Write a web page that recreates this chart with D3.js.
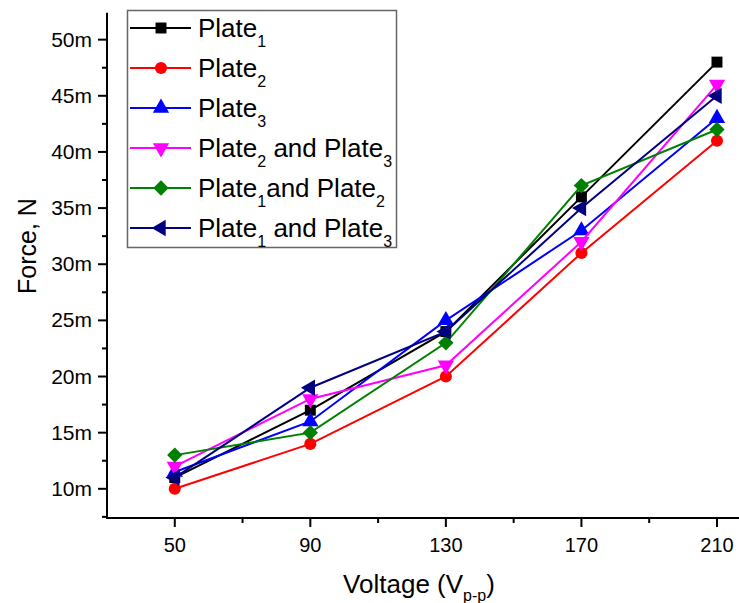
<!DOCTYPE html>
<html>
<head>
<meta charset="utf-8">
<script src="https://cdn.jsdelivr.net/npm/d3@7"></script>
<style>
  body { margin: 0; background: #fff; }
  svg { font-family: "Liberation Sans", Arial, sans-serif; }
</style>
</head>
<body>
<svg width="739" height="603"></svg>
<script>
// data (force in mN)
var voltages = [50, 90, 130, 170, 210];
var plate1 = [11, 17, 24, 36, 48];
var plate2 = [10, 14, 20, 31, 41];
var plate3 = [11.5, 16, 25, 33, 43];
var plate23 = [12, 18, 21, 32, 46];
var plate12 = [13, 15, 23, 37, 42];
var plate13 = [11, 19, 24, 35, 45];
var xTicks = [50, 90, 130, 170, 210];
var yTicks = [10, 15, 20, 25, 30, 35, 40, 45, 50];

var series = [
  {vals: plate1, color: "#000000", sym: d3.symbolSquare, size: 120, rot: 0, label: [["Plate",""],["1","sub"]]},
  {vals: plate2, color: "#ff0000", sym: d3.symbolCircle, size: 115, rot: 0, label: [["Plate",""],["2","sub"]]},
  {vals: plate3, color: "#0000ff", sym: d3.symbolTriangle, size: 115, rot: 0, label: [["Plate",""],["3","sub"]]},
  {vals: plate23, color: "#ff00ff", sym: d3.symbolTriangle, size: 115, rot: 180, label: [["Plate",""],["2","sub"],[" and Plate",""],["3","sub"]]},
  {vals: plate12, color: "#008000", sym: d3.symbolDiamond2, size: 150, rot: 0, label: [["Plate",""],["1","sub"],["and Plate",""],["2","sub"]]},
  {vals: plate13, color: "#000080", sym: d3.symbolTriangle, size: 115, rot: -90, label: [["Plate",""],["1","sub"],[" and Plate",""],["3","sub"]]}
];

var svg = d3.select("svg");

var x = d3.scaleLinear().domain([30, 216.5]).range([107, 739]);
var y = d3.scaleLinear().domain([7.4, 52.4]).range([518, 12.7]);

// x axis
var xAxis = svg.append("g").attr("transform", "translate(0,518)");
xAxis.append("line").attr("x1", 107).attr("x2", 739).attr("stroke", "#000").attr("stroke-width", 2);
xAxis.selectAll(".maj").data(xTicks).enter().append("line")
  .attr("x1", function(d){ return x(d); }).attr("x2", function(d){ return x(d); })
  .attr("y1", 0).attr("y2", 9).attr("stroke", "#000").attr("stroke-width", 2);
xAxis.selectAll(".min").data([70, 110, 150, 190]).enter().append("line")
  .attr("x1", function(d){ return x(d); }).attr("x2", function(d){ return x(d); })
  .attr("y1", 0).attr("y2", 5).attr("stroke", "#000").attr("stroke-width", 2);
xAxis.selectAll("text").data(xTicks).enter().append("text")
  .attr("x", function(d){ return x(d); }).attr("y", 34)
  .attr("text-anchor", "middle").attr("font-size", 20)
  .text(function(d){ return d; });

// y axis
var yAxis = svg.append("g").attr("transform", "translate(107,0)");
yAxis.append("line").attr("y1", 12.7).attr("y2", 519).attr("stroke", "#000").attr("stroke-width", 2);
yAxis.selectAll(".maj").data(yTicks).enter().append("line")
  .attr("y1", function(d){ return y(d); }).attr("y2", function(d){ return y(d); })
  .attr("x1", 0).attr("x2", -9).attr("stroke", "#000").attr("stroke-width", 2);
yAxis.selectAll(".min").data([7.5, 12.5, 17.5, 22.5, 27.5, 32.5, 37.5, 42.5, 47.5]).enter().append("line")
  .attr("y1", function(d){ return y(d); }).attr("y2", function(d){ return y(d); })
  .attr("x1", 0).attr("x2", -5).attr("stroke", "#000").attr("stroke-width", 2);
yAxis.selectAll("text").data(yTicks).enter().append("text")
  .attr("x", -15).attr("y", function(d){ return y(d) + 7; })
  .attr("text-anchor", "end").attr("font-size", 21)
  .text(function(d){ return d + "m"; });

// axis titles
svg.append("text").attr("transform", "translate(36,246) rotate(-90)")
  .attr("text-anchor", "middle").attr("font-size", 25).text("Force, N");
var xt = svg.append("text").attr("x", 419).attr("y", 593)
  .attr("text-anchor", "middle").attr("font-size", 26);
xt.append("tspan").text("Voltage (V");
xt.append("tspan").attr("font-size", 16).attr("dy", 8).text("p-p");
xt.append("tspan").attr("dy", -8).text(")");

// lines and markers
var line = d3.line()
  .x(function(d, i){ return x(voltages[i]); })
  .y(function(d){ return y(d); });

series.forEach(function(s){
  var g = svg.append("g");
  g.append("path").attr("d", line(s.vals)).attr("fill", "none")
    .attr("stroke", s.color).attr("stroke-width", 2);
  g.selectAll("path.m").data(s.vals).enter().append("path")
    .attr("class", "m")
    .attr("d", d3.symbol().type(s.sym).size(s.size))
    .attr("transform", function(d, i){ return "translate(" + x(voltages[i]) + "," + y(d) + ") rotate(" + s.rot + ")"; })
    .attr("fill", s.color);
});

// legend
var leg = svg.append("g");
leg.append("rect").attr("x", 127.5).attr("y", 10.5).attr("width", 269).attr("height", 237)
  .attr("fill", "#fff").attr("stroke", "#666").attr("stroke-width", 1.5);
series.forEach(function(s, i){
  var ly = 28 + i * 40;
  leg.append("line").attr("x1", 130).attr("x2", 191).attr("y1", ly).attr("y2", ly)
    .attr("stroke", s.color).attr("stroke-width", 2);
  leg.append("path").attr("d", d3.symbol().type(s.sym).size(s.size))
    .attr("transform", "translate(161," + ly + ") rotate(" + s.rot + ")")
    .attr("fill", s.color);
  var t = leg.append("text").attr("x", 198).attr("y", ly + 9).attr("font-size", 26);
  var shift = 0;
  s.label.forEach(function(p){
    if (p[1] == "sub") {
      t.append("tspan").attr("font-size", 16).attr("dy", 10 - shift).text(p[0]);
      shift = 10;
    } else {
      t.append("tspan").attr("dy", -shift).text(p[0]);
      shift = 0;
    }
  });
});
</script>
</body>
</html>
